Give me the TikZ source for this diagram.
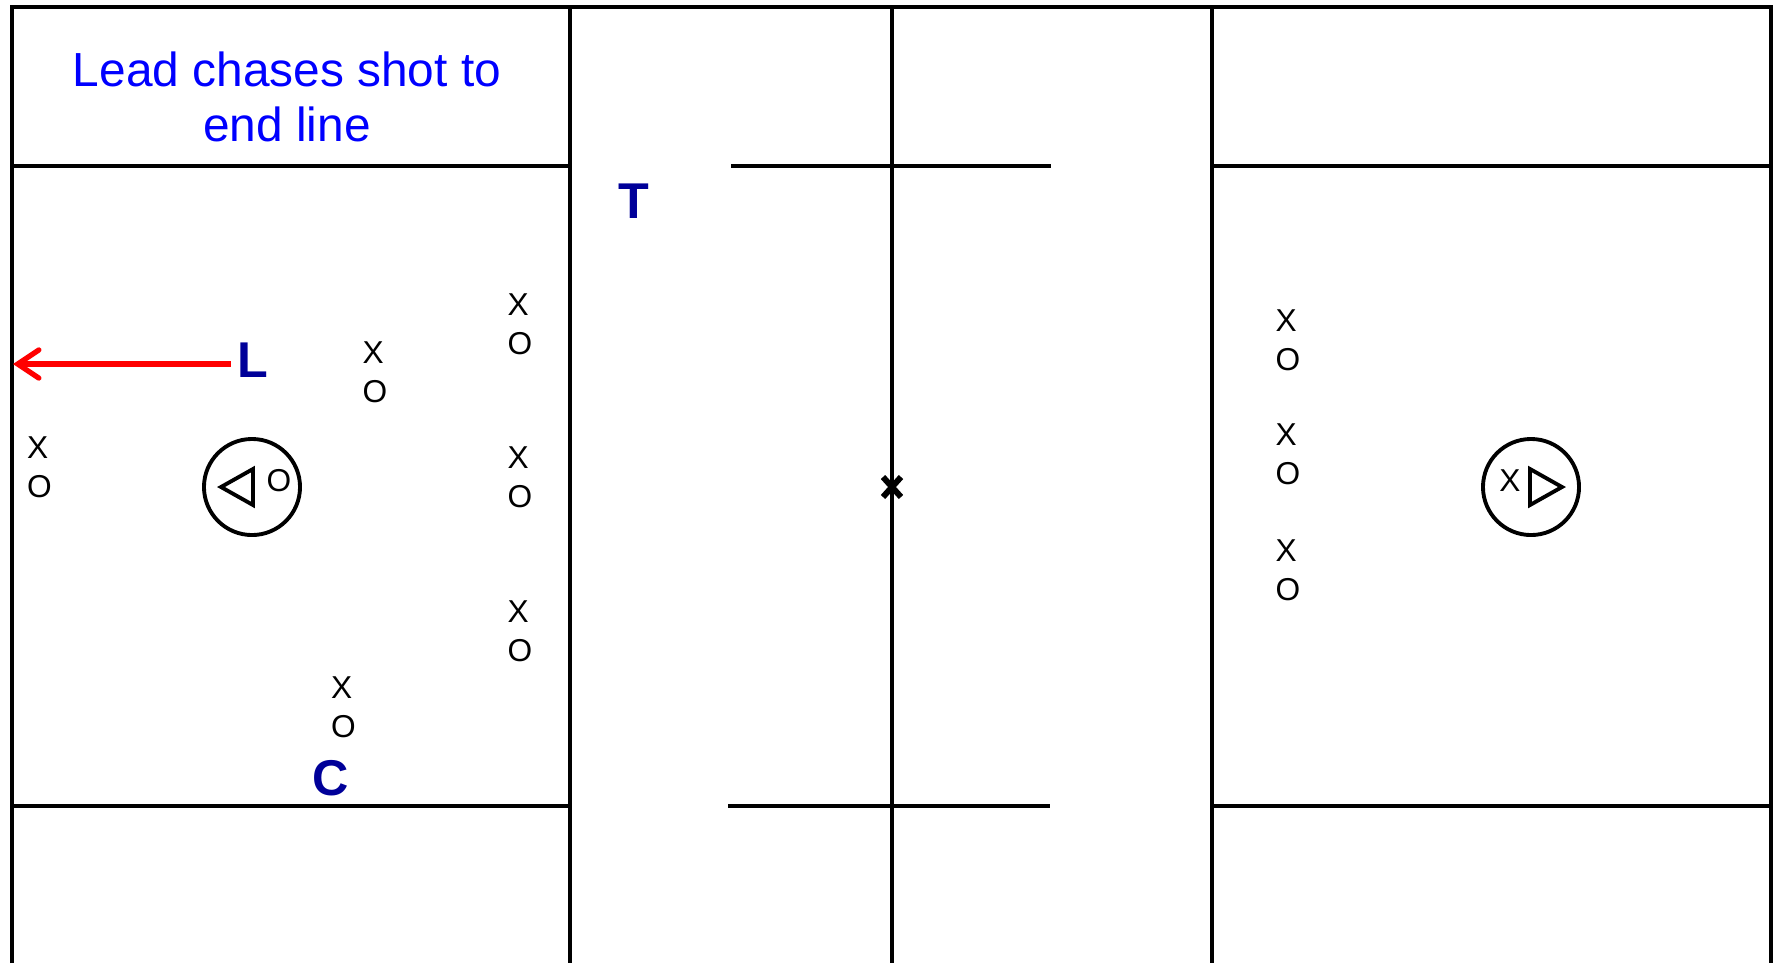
\documentclass[tikz,border=0pt]{standalone}
\usepackage{fontspec}
\setmainfont{Liberation Sans}
\usetikzlibrary{arrows.meta}

\definecolor{noteblue}{RGB}{0,0,255}
\definecolor{roleblue}{RGB}{0,0,153}

\begin{document}
\begin{tikzpicture}[
    x=0.01cm,y=-0.01cm,
    fld/.style={line width=1.1pt},
    goal/.style={circle,draw,line width=1.1pt,minimum size=0.96cm,inner sep=0pt},
    tri/.style={line width=1.1pt},
    pl/.style={align=left,inner sep=0pt,font=\fontsize{9}{11.1}\selectfont},
    role/.style={inner sep=0pt,outer sep=2pt,text=roleblue,font=\fontsize{14.3}{16}\selectfont\bfseries},
    note/.style={align=center,inner sep=0pt,text=noteblue,font=\fontsize{13.6}{15.5}\selectfont},
    chase/.style={red,line width=1.5pt,-{Straight Barb[length=6pt,width=8pt,line cap=round]}}
]
\useasboundingbox (0,0) rectangle (1776,963);

% field border and dividers
\draw[fld] (12,963) -- (12,7) -- (1771,7) -- (1771,963);
\foreach \xx in {570,892,1212}
  \draw[fld] (\xx,7) -- (\xx,963);

% box lines, left and right
\draw[fld] (12,166) -- (570,166) (12,806) -- (570,806);
\draw[fld] (1212,166) -- (1771,166) (1212,806) -- (1771,806);

% restraining lines in the middle
\draw[fld] (731,166) -- (1051,166) (728,806) -- (1050,806);

% center mark
\draw[line width=1.7pt] (883,477) -- (901,497) (883,497) -- (901,477);

% goals
\node[goal] (goalL) at (252,487) {};
\node[goal] (goalR) at (1531,487) {};
\draw[tri] (221,487) -- (253,469) -- (253,505) -- cycle;
\draw[tri] (1562,487) -- (1530,469) -- (1530,505) -- cycle;
\node[pl] (gO) at (279,480.5) {O};
\node[pl] (gX) at (1510,481) {X};

% note
\node[note] (note) at (287,97) {Lead chases shot to\\end line};

% left end players
\node[pl] (a1) at (520,324) {X\\O};
\node[pl] (a2) at (375,372) {X\\O};
\node[pl] (a3) at (39.5,467) {X\\O};
\node[pl] (a4) at (520,477) {X\\O};
\node[pl] (a5) at (520,631) {X\\O};
\node[pl] (a6) at (343.5,707) {X\\O};

% right end players
\node[pl] (b1) at (1288,340) {X\\O};
\node[pl] (b2) at (1288,454.5) {X\\O};
\node[pl] (b3) at (1288,570) {X\\O};

% roles
\node[role] (L) at (253,360.5) {L};
\node[role] (T) at (633.5,201.5) {T};
\node[role] (C) at (331,778) {C};

% lead chases the shot
\coordinate (endL) at (13,364);
\draw[chase] (L.west |- endL) -- (endL);

\end{tikzpicture}
\end{document}
